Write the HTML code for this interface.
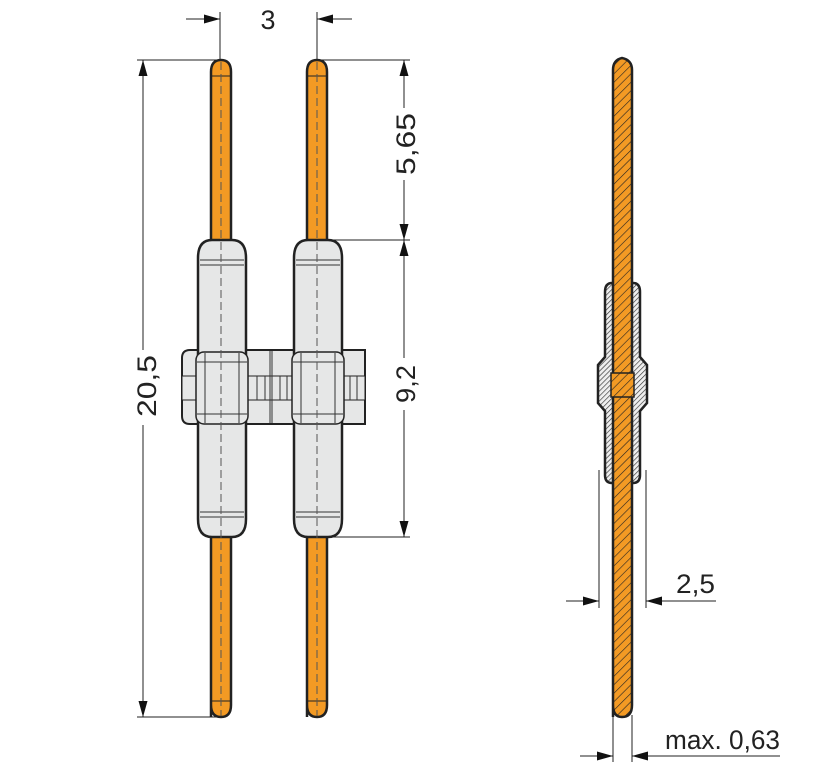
<!DOCTYPE html>
<html><head><meta charset="utf-8"><style>
html,body{margin:0;padding:0;background:#fff}
svg{display:block}
text{font-family:"Liberation Sans",sans-serif;fill:#222}
</style></head><body>
<svg width="835" height="768" viewBox="0 0 835 768" xmlns="http://www.w3.org/2000/svg">
<defs>
<marker id="ar" markerWidth="16" markerHeight="10" refX="16" refY="5" orient="auto" markerUnits="userSpaceOnUse">
<path d="M0,0.5 L16,5 L0,9.5 Z" fill="#111"/></marker>
<pattern id="hatchO" width="6" height="6" patternUnits="userSpaceOnUse" patternTransform="rotate(45)">
<rect width="6" height="6" fill="#f39a24"/><line x1="0" y1="0" x2="0" y2="6" stroke="#222" stroke-width="1.2"/></pattern>
<pattern id="hatchG" width="3.5" height="3.5" patternUnits="userSpaceOnUse" patternTransform="rotate(45)">
<rect width="4" height="4" fill="#eee"/><line x1="0" y1="0" x2="0" y2="4" stroke="#333" stroke-width="1.3"/></pattern>
</defs>

<g stroke="#222" stroke-width="1" fill="none">
<line x1="220" y1="12" x2="220" y2="62"/>
<line x1="317" y1="12" x2="317" y2="62"/>
<line x1="186" y1="19" x2="220" y2="19" marker-end="url(#ar)"/>
<line x1="352" y1="19" x2="317" y2="19" marker-end="url(#ar)"/>
<line x1="137" y1="60" x2="218" y2="60"/>
<line x1="137" y1="717" x2="218" y2="717"/>
<line x1="143" y1="350" x2="143" y2="60" marker-end="url(#ar)"/>
<line x1="143" y1="425" x2="143" y2="717" marker-end="url(#ar)"/>
<line x1="320" y1="60" x2="410" y2="60"/>
<line x1="330" y1="240" x2="410" y2="240"/>
<line x1="330" y1="537" x2="410" y2="537"/>
<line x1="404" y1="108" x2="404" y2="60" marker-end="url(#ar)"/>
<line x1="404" y1="180" x2="404" y2="240" marker-end="url(#ar)"/>
<line x1="404" y1="358" x2="404" y2="240" marker-end="url(#ar)"/>
<line x1="404" y1="410" x2="404" y2="537" marker-end="url(#ar)"/>
<line x1="599" y1="470" x2="599" y2="608"/>
<line x1="646" y1="470" x2="646" y2="608"/>
<line x1="566" y1="601" x2="599" y2="601" marker-end="url(#ar)"/>
<line x1="716" y1="601" x2="646" y2="601" marker-end="url(#ar)"/>
<line x1="613" y1="715" x2="613" y2="762"/>
<line x1="632" y1="715" x2="632" y2="762"/>
<line x1="580" y1="756" x2="613" y2="756" marker-end="url(#ar)"/>
<line x1="780" y1="756" x2="632" y2="756" marker-end="url(#ar)"/>
</g>
<text x="268" y="29" font-size="27" text-anchor="middle">3</text>
<text transform="translate(156,386) rotate(-90)" font-size="27" text-anchor="middle" textLength="62" lengthAdjust="spacingAndGlyphs">20,5</text>
<text transform="translate(415,144) rotate(-90)" font-size="27" text-anchor="middle" textLength="62" lengthAdjust="spacingAndGlyphs">5,65</text>
<text transform="translate(415,384) rotate(-90)" font-size="27" text-anchor="middle" textLength="38" lengthAdjust="spacingAndGlyphs">9,2</text>
<text x="676" y="593" font-size="27" textLength="39" lengthAdjust="spacingAndGlyphs">2,5</text>
<text x="665" y="749" font-size="27" textLength="115" lengthAdjust="spacingAndGlyphs">max. 0,63</text>

<g stroke="#222" stroke-width="2.5" fill="#f39a24">
<path d="M211,717 L211,72 Q211,60 221,60 Q231,60 231,72 L231,705 Q231,717 221,717 Q211,717 211,705 Z"/>
<path d="M307,717 L307,72 Q307,60 317,60 Q327,60 327,72 L327,705 Q327,717 317,717 Q307,717 307,705 Z"/>
</g>
<g stroke="#222" stroke-width="1" fill="none">
<line x1="212" y1="76" x2="230" y2="76"/><line x1="308" y1="76" x2="326" y2="76"/>
<line x1="212" y1="701" x2="230" y2="701"/><line x1="308" y1="701" x2="326" y2="701"/>
</g>
<g stroke="#222" stroke-width="2" fill="#e6e7e7">
<path d="M190,350 L365,350 L365,424 L190,424 Q182,424 182,416 L182,358 Q182,350 190,350 Z"/>
<rect x="246" y="376" width="48" height="24" stroke-width="1"/>
<rect x="341" y="376" width="24" height="24" stroke-width="1"/>
<rect x="182" y="376" width="15" height="24" stroke-width="1"/>
</g>
<g stroke="#333" stroke-width="1">
<line x1="257" y1="376" x2="257" y2="400"/><line x1="265" y1="376" x2="265" y2="400"/>
<line x1="270" y1="351" x2="270" y2="423"/><line x1="272" y1="351" x2="272" y2="423"/>
<line x1="280" y1="376" x2="280" y2="400"/><line x1="287" y1="376" x2="287" y2="400"/>
<line x1="350" y1="376" x2="350" y2="400"/><line x1="357" y1="376" x2="357" y2="400"/>
</g>
<g stroke="#222" stroke-width="2.5" fill="#e6e7e7">
<path d="M198,258 Q198,240 212,240 L232,240 Q246,240 246,258 L246,519 Q246,537 232,537 L212,537 Q198,537 198,519 Z"/>
<path d="M294,258 Q294,240 308,240 L328,240 Q342,240 342,258 L342,519 Q342,537 328,537 L308,537 Q294,537 294,519 Z"/>
</g>
<g stroke="#222" stroke-width="1.5" fill="#e6e7e7">
<rect x="196" y="352" width="52" height="72" rx="8"/>
<rect x="292" y="352" width="52" height="72" rx="8"/>
</g>
<g stroke="#333" stroke-width="1" fill="none">
<line x1="200" y1="260" x2="244" y2="260"/><line x1="200" y1="265" x2="244" y2="265"/>
<line x1="296" y1="260" x2="340" y2="260"/><line x1="296" y1="265" x2="340" y2="265"/>
<line x1="200" y1="512" x2="244" y2="512"/><line x1="200" y1="517" x2="244" y2="517"/>
<line x1="296" y1="512" x2="340" y2="512"/><line x1="296" y1="517" x2="340" y2="517"/>
<line x1="197" y1="362" x2="247" y2="362"/><line x1="197" y1="414" x2="247" y2="414"/>
<line x1="293" y1="362" x2="343" y2="362"/><line x1="293" y1="414" x2="343" y2="414"/>
<line x1="205" y1="353" x2="205" y2="423"/><line x1="239" y1="353" x2="239" y2="423"/>
<line x1="301" y1="353" x2="301" y2="423"/><line x1="335" y1="353" x2="335" y2="423"/>
</g>
<g stroke="#555" stroke-width="1" stroke-dasharray="8,4">
<line x1="221" y1="62" x2="221" y2="716"/><line x1="317" y1="62" x2="317" y2="716"/>
</g>

<path d="M605,292 Q605,283 612,283 L633,283 Q640,283 640,292 L640,357 L647,365 L647,403 L640,411 L640,475 Q640,483 633,483 L612,483 Q605,483 605,475 L605,411 L598,403 L598,365 L605,357 Z" fill="url(#hatchG)" stroke="#222" stroke-width="2.5"/>
<path d="M613,717 L613,70 Q613,60 622,58 Q632,60 632,70 L632,705 Q632,717 622,717 Q613,717 613,705 Z" fill="url(#hatchO)" stroke="#222" stroke-width="2.5"/>
<rect x="611" y="373" width="23" height="24" fill="url(#hatchO)" stroke="#222" stroke-width="1.5"/>
</svg>
</body></html>
